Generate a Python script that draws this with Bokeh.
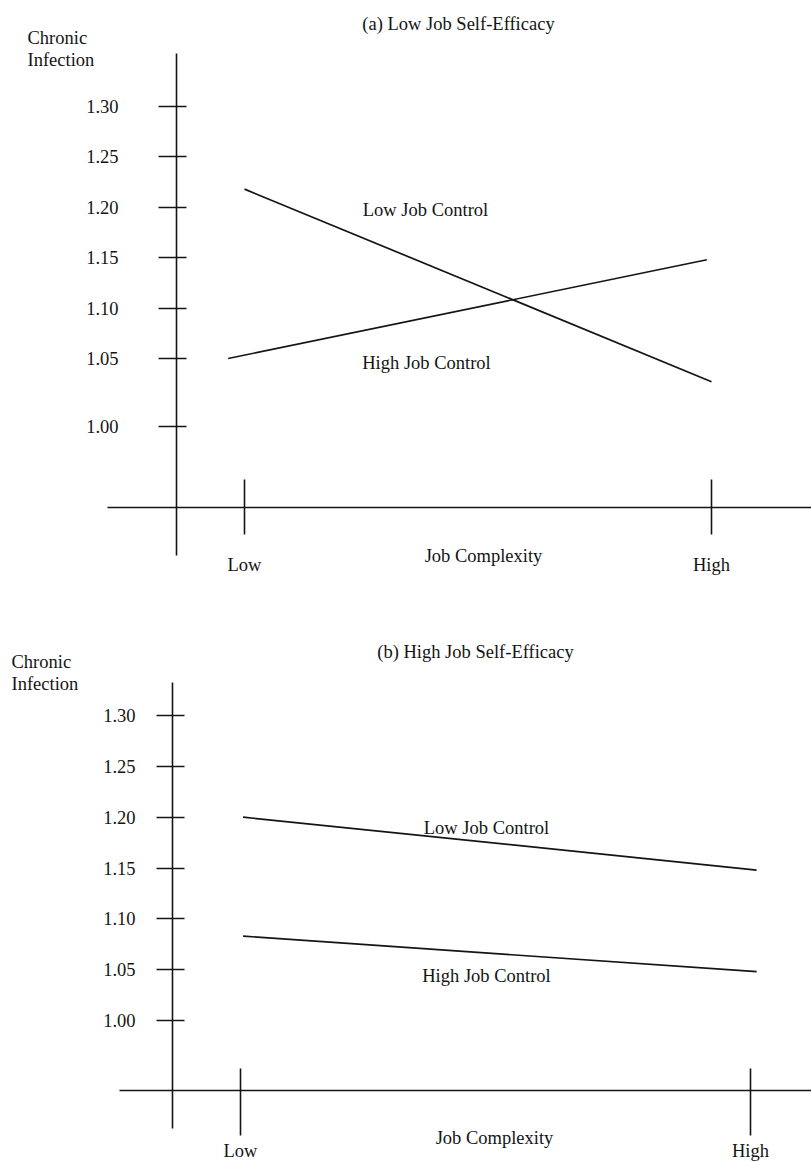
from bokeh.plotting import figure
from bokeh.models import LinearAxis, FixedTicker, Label, Range1d
from bokeh.layouts import column
from bokeh.embed import file_html
from bokeh.resources import INLINE

# ---------------- data ----------------
levels = ["Low", "High"]
level_x = [0, 1]
y_tick_values = [1.00, 1.05, 1.10, 1.15, 1.20, 1.25, 1.30]
y_tick_labels = ["1.00", "1.05", "1.10", "1.15", "1.20", "1.25", "1.30"]
# panel (a): in the original the 1.00 tick is drawn lower than the regular spacing
a_y_tick_positions = [0.9825, 1.05, 1.10, 1.15, 1.20, 1.25, 1.30]

a_low_control_x = [0.0, 1.0]
a_low_control = [1.218, 1.027]
a_high_control_x = [-0.035, 0.99]
a_high_control = [1.050, 1.148]

b_low_control_x = [0.005, 1.012]
b_low_control = [1.200, 1.148]
b_high_control_x = [0.005, 1.012]
b_high_control = [1.083, 1.048]

FONT = "Liberation Serif"
FSIZE = "18.5px"
INK = "#141414"
W = 811


def make_panel(cfg):
    x0p, xs = cfg["x0_page"], cfg["xscale"]
    yrv, yrp, ys = 1.30, cfg["yref_page"], cfg["yscale"]
    top, h = cfg["page_top"], cfg["height"]

    def fx(px):
        return (px - x0p) / xs

    def fy(py):
        return yrv - (py - yrp) / ys

    p = figure(width=W, height=h, output_backend="svg", toolbar_location=None,
               x_axis_location=None, y_axis_location=None,
               x_range=Range1d(fx(0), fx(W)),
               y_range=Range1d(fy(top + h), fy(top)),
               min_border=0, min_border_left=0, min_border_right=0,
               min_border_top=0, min_border_bottom=0)
    p.outline_line_color = None
    p.grid.visible = False
    p.background_fill_color = "white"

    # y axis
    ya = LinearAxis(fixed_location=fx(cfg["yaxis_x"]),
                    ticker=FixedTicker(ticks=cfg["ytick_pos"], minor_ticks=[]),
                    major_label_overrides=dict(zip(cfg["ytick_pos"], y_tick_labels)),
                    bounds=(fy(cfg["yaxis_bottom"]), fy(cfg["yaxis_top"])))
    ya.axis_line_color = INK
    ya.axis_line_width = 1.6
    ya.major_tick_line_color = INK
    ya.major_tick_line_width = 1.6
    ya.major_tick_out = cfg["ytick_out"]
    ya.major_tick_in = cfg["ytick_in"]
    ya.minor_tick_line_color = None
    ya.major_label_standoff = cfg["ylabel_standoff"]
    ya.major_label_text_font = FONT
    ya.major_label_text_font_size = FSIZE
    ya.major_label_text_color = INK
    p.add_layout(ya, "left")

    # x axis
    xa = LinearAxis(fixed_location=fy(cfg["xaxis_y"]),
                    ticker=FixedTicker(ticks=level_x, minor_ticks=[]),
                    major_label_overrides=dict(zip(level_x, levels)),
                    bounds=(fx(cfg["xaxis_left"]), fx(W)))
    xa.axis_line_color = INK
    xa.axis_line_width = 1.6
    xa.major_tick_line_color = INK
    xa.major_tick_line_width = 1.6
    xa.major_tick_out = cfg["xtick_out"]
    xa.major_tick_in = cfg["xtick_in"]
    xa.minor_tick_line_color = None
    xa.major_label_standoff = cfg["xlabel_standoff"]
    xa.major_label_text_font = FONT
    xa.major_label_text_font_size = FSIZE
    xa.major_label_text_color = INK
    p.add_layout(xa, "below")

    # lines
    for xs_, ys_ in cfg["series"]:
        p.line(xs_, ys_, line_color=INK, line_width=1.7)

    # texts
    for txt, px, py, align in cfg["texts"]:
        p.add_layout(Label(x=fx(px), y=fy(py), text=txt, text_align=align,
                           text_baseline="middle", text_font=FONT,
                           text_font_size=FSIZE, text_color=INK))
    return p


cfg_a = dict(page_top=0, height=600, x0_page=244, xscale=467, yref_page=106, yscale=1008,
             yaxis_x=176, yaxis_top=53, yaxis_bottom=555, ytick_out=18, ytick_in=10,
             ylabel_standoff=40, ytick_pos=a_y_tick_positions,
             xaxis_y=507, xaxis_left=107, xtick_in=28, xtick_out=27, xlabel_standoff=20,
             series=[(a_low_control_x, a_low_control), (a_high_control_x, a_high_control)],
             texts=[("(a) Low Job Self-Efficacy", 458, 23, "center"),
                    ("Chronic", 27, 37, "left"),
                    ("Infection", 27, 59, "left"),
                    ("Low Job Control", 425, 209, "center"),
                    ("High Job Control", 426, 362, "center"),
                    ("Job Complexity", 483, 555, "center")])

cfg_b = dict(page_top=600, height=562, x0_page=240, xscale=510, yref_page=715, yscale=1016.7,
             yaxis_x=172, yaxis_top=682, yaxis_bottom=1128, ytick_out=16, ytick_in=12,
             ylabel_standoff=21, ytick_pos=y_tick_values,
             xaxis_y=1090, xaxis_left=119, xtick_in=22, xtick_out=45, xlabel_standoff=5,
             series=[(b_low_control_x, b_low_control), (b_high_control_x, b_high_control)],
             texts=[("(b) High Job Self-Efficacy", 475, 651, "center"),
                    ("Chronic", 11, 661, "left"),
                    ("Infection", 11, 683, "left"),
                    ("Low Job Control", 486, 827, "center"),
                    ("High Job Control", 486, 975, "center"),
                    ("Job Complexity", 494, 1137, "center")])

p1 = make_panel(cfg_a)
p2 = make_panel(cfg_b)
layout = column(p1, p2, spacing=0)

with open("out.html", "w") as f:
    f.write(file_html(layout, INLINE))
